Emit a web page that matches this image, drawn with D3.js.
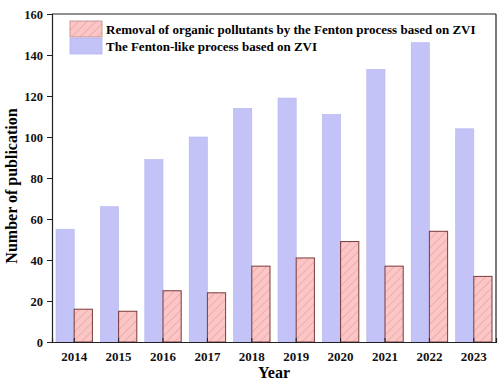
<!DOCTYPE html>
<meta charset="utf-8">
<title>ZVI Fenton publications</title>
<style>
  body { margin: 0; background: #fff; }
  text { font-family: "Liberation Serif", "Times New Roman", serif; font-weight: bold; }
</style>
<body>
<script src="https://cdn.jsdelivr.net/npm/d3@7"></script>
<script>
  // data
  var years = ["2014", "2015", "2016", "2017", "2018", "2019", "2020", "2021", "2022", "2023"];
  var fentonLike = [55, 66, 89, 100, 114, 119, 111, 133, 146, 104];
  var removal = [16, 15, 25, 24, 37, 41, 49, 37, 54, 32];
  var yTicks = [0, 20, 40, 60, 80, 100, 120, 140, 160];
  var legendLabels = ["Removal of organic pollutants by the Fenton process based on ZVI",
                      "The Fenton-like process based on ZVI"];

  var margin = {top: 14, right: 8, bottom: 43, left: 52},
      width = 504 - margin.left - margin.right,
      height = 385 - margin.top - margin.bottom;

  var svg = d3.select("body").append("svg")
      .attr("width", 504)
      .attr("height", 385);

  // hatch pattern for the red bars
  var defs = svg.append("defs");
  var pat = defs.append("pattern")
      .attr("id", "hatch")
      .attr("patternUnits", "userSpaceOnUse")
      .attr("width", 6).attr("height", 6)
      .attr("patternTransform", "rotate(45)");
  pat.append("rect").attr("width", 6).attr("height", 6).attr("fill", "#fbc6c6");
  pat.append("line").attr("x1", 0).attr("y1", 0).attr("x2", 0).attr("y2", 6)
      .attr("stroke", "#eea3a3").attr("stroke-width", 1.5);

  var g = svg.append("g")
      .attr("transform", "translate(" + margin.left + "," + margin.top + ")");

  var x = d3.scaleBand().domain(years).range([0, width]).paddingInner(0).paddingOuter(0);
  var y = d3.scaleLinear().domain([0, 160]).range([height, 0]);
  var barW = x.bandwidth() * 0.41;

  // blue bars
  g.append("g").selectAll("rect")
      .data(fentonLike)
      .enter().append("rect")
      .attr("x", function(d, i) { return x(years[i]) + x.bandwidth() / 2 - barW; })
      .attr("y", function(d) { return y(d); })
      .attr("width", barW)
      .attr("height", function(d) { return height - y(d); })
      .attr("fill", "#c3c3f7")
      .attr("stroke", "#b4b4ee")
      .attr("stroke-width", 0.6);

  // red hatched bars
  g.append("g").selectAll("rect")
      .data(removal)
      .enter().append("rect")
      .attr("x", function(d, i) { return x(years[i]) + x.bandwidth() / 2; })
      .attr("y", function(d) { return y(d); })
      .attr("width", barW)
      .attr("height", function(d) { return height - y(d); })
      .attr("fill", "url(#hatch)")
      .attr("stroke", "#7a3a3a")
      .attr("stroke-width", 1);

  // axes
  var yAxis = g.append("g")
      .call(d3.axisLeft(y).tickValues(yTicks).tickSize(5).tickPadding(4));
  yAxis.selectAll("text").attr("font-size", 12.5).attr("fill", "#111");

  var xAxis = g.append("g")
      .attr("transform", "translate(0," + height + ")")
      .call(d3.axisBottom(x).tickSize(-4).tickPadding(10));
  xAxis.selectAll("text").attr("font-size", 13).attr("fill", "#111");

  g.selectAll(".domain").attr("stroke", "#222").attr("stroke-width", 1.2);
  g.selectAll(".tick line").attr("stroke", "#222");

  // top and right frame
  g.append("line").attr("x1", 0).attr("x2", width).attr("y1", 0).attr("y2", 0)
      .attr("stroke", "#222").attr("stroke-width", 1.2);
  g.append("line").attr("x1", width).attr("x2", width).attr("y1", 0).attr("y2", height)
      .attr("stroke", "#222").attr("stroke-width", 1.2);

  // axis titles
  svg.append("text")
      .attr("transform", "translate(17," + 186 + ") rotate(-90)")
      .attr("text-anchor", "middle")
      .attr("font-size", 16)
      .text("Number of publication");
  svg.append("text")
      .attr("x", margin.left + width / 2)
      .attr("y", 378)
      .attr("text-anchor", "middle")
      .attr("font-size", 16)
      .text("Year");

  // legend
  var legend = g.append("g").attr("transform", "translate(18,7)");
  var fills = ["url(#hatch)", "#c3c3f7"];
  var strokes = ["#b88", "#b4b4ee"];
  legendLabels.forEach(function(t, i) {
    legend.append("rect")
        .attr("x", 0).attr("y", i * 17)
        .attr("width", 32).attr("height", 16)
        .attr("fill", fills[i]).attr("stroke", strokes[i]).attr("stroke-width", 0.8);
    legend.append("text")
        .attr("x", 36).attr("y", i * 17 + 8)
        .attr("dy", "0.35em")
        .attr("font-size", 13)
        .text(t);
  });
</script>
</body>
